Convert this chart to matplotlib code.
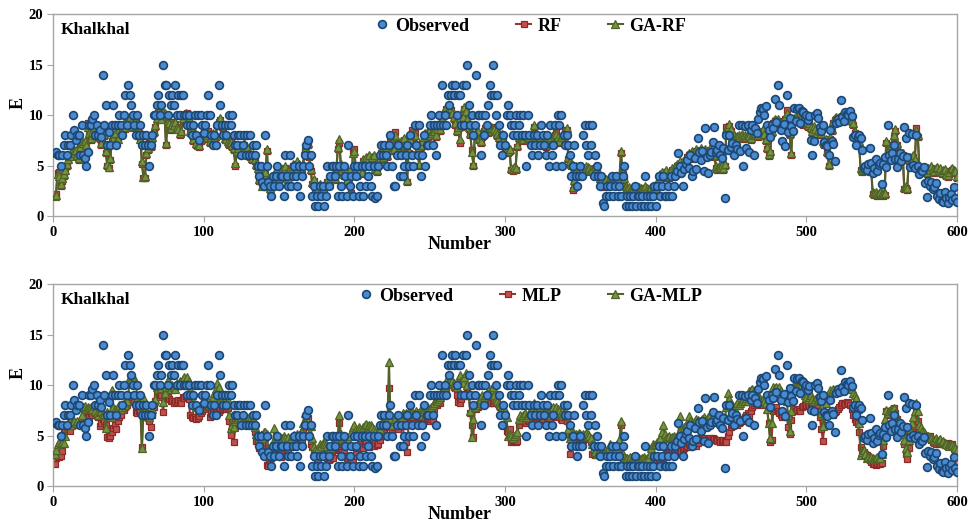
"""
Observed vs. predicted E at Khalkhal (RF / GA-RF and MLP / GA-MLP)
"""

import numpy as np
import matplotlib
matplotlib.use("Agg")
from matplotlib import pyplot as plt
from matplotlib.lines import Line2D

# Data (600 samples)
number = np.arange(1, 601)

observed = [
    6.2, 6.3, 6, 6, 5, 6, 7, 8, 6, 7, 7, 8, 10, 8.5, 7.5, 8, 8, 6, 9, 6,
    5.7, 5, 6.3, 9, 9, 9.6, 10, 8, 9, 8, 8.5, 7.8, 14, 9, 11, 7, 8.3, 7, 9, 11,
    9, 7, 9, 10, 9, 8, 10, 12, 9, 13, 12, 11, 10, 9, 8, 10, 8, 9, 7, 8,
    7, 8, 7, 5, 7, 8, 10, 10, 11, 12, 10, 11, 15, 13, 13, 10, 12, 11, 12, 11,
    13, 10, 12, 10, 12, 12, 10, 10, 9, 10, 9, 8, 9, 10, 8, 10, 7.5, 10, 9, 8.2,
    9, 10, 12, 10, 8, 7, 8, 7, 9, 13, 11, 9, 8, 9, 8, 9, 10, 9, 10, 8,
    7, 7, 8, 8, 6, 7, 8, 6, 8, 6, 8, 6, 7, 6, 7, 5, 4, 5, 3.4, 3,
    8, 5, 3.4, 3, 2, 4, 3, 4, 5, 3, 4, 4, 2, 6, 4, 3, 6, 3, 4, 5,
    4, 3, 5, 2, 4, 5, 6, 7, 7.5, 5, 6, 2, 3, 1, 2, 1, 3, 2, 3, 1,
    2, 5, 3, 4, 5, 5, 4, 5, 2, 5, 3, 2, 5, 4, 2, 7, 3, 4, 2, 5,
    4, 5, 2, 3, 5, 2, 5, 3, 4, 5, 3, 2, 5, 1.8, 2, 5, 6, 7, 6, 7,
    6, 5, 7, 8, 5, 3, 3, 6, 7, 4, 6, 4, 5, 6, 7, 5, 8, 6, 5, 9,
    7, 6, 9, 4, 6, 8, 5, 7, 7, 9, 10, 7, 9, 6, 9, 10, 9, 13, 9, 10,
    9, 12, 11, 12, 13, 12, 13, 10, 12, 12, 9, 13, 9, 13, 15, 11, 9, 10, 8, 9,
    14, 10, 10, 6, 10, 8, 10, 9, 11, 13, 12, 15, 12, 10, 12, 9, 7, 6, 8, 7,
    10, 11, 10, 9, 8, 9, 10, 8, 9, 10, 8, 10, 8, 5, 10, 8, 7, 6, 8, 7,
    8, 6, 7, 9, 8, 7, 6, 8, 5, 9, 6, 7, 9, 5, 10, 9, 10, 5, 8, 7,
    8, 7, 6, 4, 5, 7, 4, 3, 4, 5, 4, 8, 9, 7, 6, 9, 7, 9, 4, 6,
    5, 4, 3, 4, 1.3, 1, 2, 3, 2, 3, 4, 2, 3, 4, 2, 3, 2, 4, 5, 1,
    2, 1, 2, 1, 2, 3, 1, 2, 2, 1, 2, 1, 4, 2, 1, 2, 1, 2, 3, 1,
    3, 4, 2, 3, 4, 2, 2, 3, 2, 4, 2, 3, 4, 4.5, 6.2, 5, 4.3, 3, 4.7, 5.2,
    5.5, 4.8, 6, 4, 4.5, 5.7, 4.7, 7.7, 6.3, 5.5, 6.4, 4.5, 8.7, 5.8, 4.3, 6, 6.3, 7.3, 8.8, 6.3,
    6.5, 7, 6, 5.7, 6.7, 1.8, 8, 6.5, 8, 6.8, 7.2, 6, 7, 6.6, 9, 6.4, 9, 5, 8.9, 6.7,
    9, 6.3, 8.5, 9, 6, 8.7, 8.2, 9.6, 10.3, 10.7, 10.6, 10, 10.9, 9, 8.5, 7.8, 9, 8.7, 11.6, 9.3,
    13, 11, 8.5, 7.4, 9.1, 6.9, 12, 8.3, 9.7, 8.9, 8.4, 10.7, 9.4, 10.6, 10.7, 9.2, 10.4, 10.3, 9.8, 10,
    9.5, 9.9, 7.5, 6, 7.4, 10, 10.2, 9.7, 8.8, 8.4, 9, 7.3, 7, 6.9, 6, 8.5, 7.4, 7.1, 5.4, 9.2,
    9.6, 9.3, 11.5, 9.8, 9.4, 10.3, 10.1, 10, 10.4, 9.9, 7.8, 8, 7, 7.8, 8, 7.7, 6.5, 4.8, 5, 4.6,
    5.2, 6.7, 5.3, 4.3, 4.8, 5.6, 4.5, 5.1, 5.3, 3.2, 5.2, 5.8, 4.9, 9, 6, 5.5, 6.2, 7, 5.6, 4.9,
    5.6, 6.2, 5.4, 5.9, 8.8, 7.7, 5.8, 8.2, 4.9, 8.1, 5.1, 4.8, 8, 5, 4.2, 4.6, 4.5, 4.9, 3.3, 1.9,
    3.5, 3, 3.4, 2.7, 2.9, 3.3, 2, 1.7, 2.3, 1.5, 1.4, 2.4, 1.8, 1.3, 1.9, 2.2, 1.6, 2.9, 1.8, 1.4,
]

rf = [
    2.1, 2.2, 4.3, 4.4, 3.0, 3.5, 4.0, 4.8, 5.0, 5.5, 5.8, 6.0, 6.5, 6.2, 6.3, 5.8, 5.5, 7.0, 7.3, 7.0,
    7.2, 6.8, 9.2, 8.0, 7.5, 8.5, 8.9, 7.8, 8.3, 8.6, 7.6, 7.0, 8.8, 7.9, 6.2, 5.0, 4.8, 5.5, 7.4, 7.8,
    8.0, 7.2, 7.8, 8.4, 8.2, 8.8, 9.0, 8.6, 9.0, 9.4, 9.6, 9.1, 8.7, 9.4, 9.3, 9.0, 8.2, 7.8, 5.2, 3.8,
    3.8, 6.0, 6.5, 7.2, 6.8, 7.6, 8.2, 8.8, 9.5, 10.2, 10.0, 9.8, 10.1, 10.0, 7.0, 9.2, 9.0, 8.5, 9.3, 8.8,
    9.1, 8.6, 8.8, 8.0, 8.2, 9.5, 9.8, 10.0, 10.2, 9.5, 8.2, 8.6, 7.4, 8.0, 7.0, 7.2, 6.8, 7.4, 8.0, 7.6,
    8.0, 7.8, 8.4, 7.2, 7.6, 8.0, 7.5, 7.8, 9.0, 9.3, 9.5, 8.8, 8.2, 7.5, 7.8, 7.2, 7.0, 7.5, 6.8, 6.5,
    5.0, 6.2, 6.5, 6.8, 6.0, 6.3, 7.0, 6.2, 6.6, 6.0, 5.8, 5.5, 5.9, 5.4, 5.0, 4.6, 3.5, 3.8, 3.2, 4.0,
    4.2, 6.4, 3.0, 2.6, 3.0, 3.4, 3.8, 4.0, 4.6, 3.6, 3.8, 4.5, 4.4, 4.8, 4.2, 3.5, 4.6, 4.4, 5.0, 4.6,
    4.4, 5.2, 5.0, 4.8, 4.2, 5.0, 6.4, 6.9, 7.0, 5.8, 4.5, 3.2, 3.5, 2.4, 2.1, 2.6, 3.0, 2.4, 2.5, 2.8,
    3.0, 3.4, 3.0, 3.5, 3.8, 4.0, 3.6, 4.2, 6.6, 7.2, 5.0, 4.4, 4.0, 4.6, 3.4, 4.0, 4.4, 2.3, 6.4, 6.6,
    4.5, 4.0, 4.4, 4.8, 4.2, 5.4, 5.0, 5.6, 5.4, 5.8, 5.2, 5.6, 5.8, 4.6, 4.4, 5.0, 5.5, 6.2, 5.6, 6.0,
    6.6, 5.8, 6.8, 7.4, 7.0, 6.4, 8.3, 7.0, 6.2, 6.8, 7.2, 6.0, 7.5, 6.8, 3.4, 6.2, 7.4, 8.5, 7.8, 8.2,
    7.0, 6.4, 5.0, 6.8, 7.2, 7.6, 8.0, 8.2, 7.8, 8.4, 8.0, 8.6, 8.2, 7.8, 8.4, 8.8, 8.4, 9.5, 10.0, 10.2,
    10.6, 10.4, 10.8, 10.5, 10.0, 9.6, 9.0, 8.3, 8.6, 7.2, 8.8, 9.6, 10.6, 10.2, 9.4, 8.6, 8.0, 6.5, 5.0, 7.9,
    7.9, 8.2, 7.5, 7.2, 7.8, 8.4, 8.7, 8.7, 8.2, 8.5, 8.6, 8.4, 8.8, 8.2, 7.9, 7.6, 7.9, 7.9, 7.4, 6.8,
    6.5, 6.2, 6.4, 4.6, 4.5, 4.7, 4.6, 6.8, 7.6, 7.8, 7.6, 7.4, 7.8, 7.7, 7.5, 7.6, 7.8, 7.8, 8.8, 7.4,
    7.2, 7.3, 7.0, 7.6, 7.4, 7.2, 6.8, 7.4, 7.0, 7.6, 7.2, 7.0, 8.0, 8.3, 7.6, 7.2, 7.6, 7.8, 8.0, 8.5,
    8.5, 5.6, 5.2, 5.0, 2.6, 3.4, 4.8, 4.6, 4.4, 4.6, 4.8, 4.6, 4.4, 4.8, 4.7, 4.6, 4.5, 4.4, 4.2, 4.8,
    4.5, 4.0, 3.6, 3.4, 2.9, 3.2, 3.5, 3.0, 3.4, 3.7, 3.8, 3.5, 3.6, 3.7, 3.4, 3.8, 6.2, 4.2, 3.6, 2.8,
    2.6, 2.7, 2.4, 2.6, 2.5, 2.8, 2.6, 2.5, 2.7, 2.6, 2.5, 2.6, 2.8, 2.6, 2.4, 2.6, 2.7, 2.6, 2.5, 2.6,
    3.0, 3.6, 4.0, 4.2, 3.8, 4.2, 4.4, 4.0, 3.8, 4.2, 4.6, 4.2, 4.8, 5.0, 4.6, 5.2, 4.9, 5.2, 5.0, 5.4,
    5.8, 6.0, 5.6, 6.2, 6.0, 5.8, 6.4, 6.0, 6.2, 6.5, 5.8, 6.2, 6.4, 6.0, 6.2, 6.5, 6.3, 6.6, 5.8, 4.8,
    4.6, 4.8, 4.7, 4.9, 4.6, 5.0, 8.8, 8.6, 8.9, 8.4, 7.6, 7.8, 7.6, 7.7, 7.8, 7.6, 7.9, 7.7, 7.8, 7.6,
    7.8, 7.7, 7.5, 7.8, 7.9, 8.0, 8.2, 7.8, 8.1, 8.0, 8.4, 7.9, 7.4, 6.6, 5.9, 6.2, 8.2, 9.2, 9.4, 9.3,
    9.4, 9.2, 8.6, 8.9, 9.0, 9.6, 10.5, 9.2, 8.0, 6.0, 9.4, 9.5, 9.6, 9.5, 9.6, 9.4, 9.2, 9.0, 9.3, 9.1,
    8.8, 9.0, 8.6, 8.2, 8.7, 8.4, 8.0, 8.3, 8.2, 8.0, 7.2, 7.0, 7.4, 6.2, 5.0, 7.6, 8.4, 9.2, 9.5, 9.6,
    9.4, 9.6, 9.8, 9.5, 9.4, 9.6, 9.5, 9.4, 9.6, 9.3, 9.0, 8.2, 7.7, 7.6, 7.2, 4.6, 4.4, 4.5, 4.7, 4.5,
    4.6, 4.4, 4.8, 2.2, 2.1, 2.2, 2.0, 2.1, 2.2, 2.1, 2.0, 2.1, 7.2, 6.0, 6.4, 6.8, 7.0, 7.8, 8.4, 7.0,
    6.2, 6.0, 5.8, 6.0, 2.7, 2.8, 2.6, 5.4, 5.6, 5.5, 5.8, 5.4, 8.7, 7.8, 4.8, 4.5, 4.4, 4.6, 4.4, 4.2,
    4.6, 4.4, 4.8, 4.5, 4.3, 4.6, 4.7, 4.4, 4.6, 4.2, 4.4, 4.5, 4.0, 3.9, 4.2, 4.5, 4.6, 4.4, 4.3, 3.8,
]

ga_rf = [
    2.0, 2.1, 4.2, 4.0, 3.2, 3.8, 4.2, 4.6, 5.2, 5.6, 5.9, 6.2, 6.6, 6.4, 6.5, 6.0, 5.7, 6.8, 7.4, 7.2,
    7.4, 7.0, 8.8, 8.2, 7.7, 8.3, 8.8, 8.0, 8.5, 8.4, 7.8, 7.2, 8.6, 8.1, 6.4, 5.2, 4.9, 5.7, 7.6, 7.6,
    8.2, 7.4, 7.6, 8.6, 8.4, 8.6, 9.2, 8.8, 9.2, 9.6, 9.8, 9.3, 8.9, 9.2, 9.5, 9.2, 8.4, 7.6, 5.4, 3.9,
    4.0, 6.2, 6.7, 7.0, 7.0, 7.8, 8.4, 9.0, 9.7, 10.4, 10.2, 9.6, 10.3, 10.2, 7.2, 9.4, 9.2, 8.7, 9.1, 9.0,
    9.3, 8.8, 8.6, 8.2, 8.4, 9.7, 10.0, 10.2, 10.0, 9.7, 8.4, 8.4, 7.6, 8.2, 7.2, 7.0, 7.0, 7.6, 8.2, 7.8,
    8.2, 8.0, 8.2, 7.4, 7.8, 8.2, 7.7, 8.0, 9.2, 9.5, 9.7, 9.0, 8.4, 7.7, 7.6, 7.4, 7.2, 7.3, 7.0, 6.7,
    5.3, 6.4, 6.7, 7.0, 6.2, 6.5, 7.2, 6.4, 6.8, 6.2, 6.0, 5.7, 6.1, 5.6, 5.2, 4.8, 3.7, 3.6, 3.0, 4.2,
    4.4, 6.6, 3.2, 2.8, 3.2, 3.6, 4.0, 4.2, 4.8, 3.8, 4.0, 4.7, 4.6, 5.0, 4.4, 3.7, 4.8, 4.6, 5.2, 4.8,
    4.6, 5.4, 5.2, 5.0, 4.4, 5.2, 6.6, 7.1, 7.2, 6.0, 4.7, 3.4, 3.7, 2.6, 2.3, 2.8, 3.2, 2.6, 2.7, 3.0,
    3.2, 3.6, 3.2, 3.7, 4.0, 4.2, 3.8, 4.4, 6.8, 7.6, 5.2, 4.6, 4.2, 4.8, 3.6, 4.2, 4.6, 2.1, 6.2, 6.4,
    4.7, 4.2, 4.6, 5.0, 4.4, 5.6, 5.2, 5.8, 5.6, 6.0, 5.4, 5.8, 6.0, 4.8, 4.6, 5.2, 5.7, 6.4, 5.8, 6.2,
    6.8, 6.0, 7.0, 7.2, 7.2, 6.6, 8.0, 7.2, 6.4, 7.0, 7.4, 6.2, 7.7, 7.0, 3.6, 6.4, 7.6, 8.3, 8.0, 8.0,
    7.2, 6.6, 5.2, 7.0, 7.4, 7.8, 8.2, 8.0, 8.0, 8.6, 8.2, 8.4, 8.4, 8.0, 8.6, 9.0, 8.6, 9.7, 10.2, 10.4,
    10.8, 10.6, 10.6, 10.7, 10.2, 9.8, 9.2, 8.5, 8.8, 7.6, 9.0, 9.8, 10.8, 10.4, 9.6, 8.8, 8.2, 6.3, 5.2, 8.1,
    8.1, 8.4, 7.7, 7.4, 8.0, 8.6, 8.9, 8.5, 8.4, 8.7, 8.8, 8.6, 8.6, 8.4, 8.1, 7.8, 8.1, 8.1, 7.6, 7.0,
    6.7, 6.4, 6.6, 4.8, 4.7, 4.9, 4.8, 7.0, 7.8, 8.0, 7.8, 7.6, 8.0, 7.9, 7.7, 7.8, 8.0, 8.0, 9.0, 7.6,
    7.4, 7.5, 7.2, 7.8, 7.6, 7.4, 7.0, 7.6, 7.2, 7.8, 7.4, 7.2, 8.2, 8.1, 7.8, 7.4, 7.8, 8.0, 8.2, 8.3,
    8.7, 5.8, 5.4, 5.2, 2.9, 3.6, 5.0, 4.8, 4.6, 4.8, 5.0, 4.8, 4.6, 5.0, 4.9, 4.8, 4.7, 4.6, 4.4, 5.0,
    4.7, 4.2, 3.8, 3.6, 3.1, 3.4, 3.7, 3.2, 3.6, 3.9, 4.0, 3.7, 3.8, 3.9, 3.6, 4.0, 6.4, 4.4, 3.8, 3.0,
    2.8, 2.9, 2.6, 2.8, 2.7, 3.0, 2.8, 2.7, 2.9, 2.8, 2.7, 2.8, 3.0, 2.8, 2.6, 2.8, 2.9, 2.8, 2.7, 2.8,
    3.2, 3.8, 4.2, 4.4, 4.0, 4.4, 4.6, 4.2, 4.0, 4.4, 4.8, 4.4, 5.0, 5.2, 4.8, 5.4, 5.1, 5.4, 5.2, 5.6,
    6.0, 6.2, 5.8, 6.4, 6.2, 6.0, 6.6, 6.2, 6.4, 6.7, 6.0, 6.4, 6.6, 6.2, 6.4, 6.7, 6.5, 6.8, 6.0, 5.0,
    4.8, 5.0, 4.9, 5.1, 4.8, 5.2, 8.6, 8.8, 9.1, 8.6, 7.8, 8.0, 7.8, 7.9, 8.0, 7.8, 8.1, 7.9, 8.0, 7.8,
    8.0, 7.9, 7.7, 8.0, 8.1, 8.2, 8.4, 8.0, 8.3, 8.2, 8.6, 8.1, 7.6, 6.8, 6.1, 6.4, 8.4, 9.4, 9.6, 9.5,
    9.6, 9.4, 8.8, 9.1, 9.2, 9.8, 10.2, 9.4, 8.2, 6.2, 9.6, 9.7, 9.8, 9.7, 9.8, 9.6, 9.4, 9.2, 9.5, 9.3,
    9.0, 9.2, 8.8, 8.4, 8.9, 8.6, 8.2, 8.5, 8.4, 8.2, 7.4, 7.2, 7.6, 6.4, 5.2, 7.8, 8.6, 9.4, 9.7, 9.8,
    9.6, 9.8, 10.0, 9.7, 9.6, 9.8, 9.7, 9.6, 9.8, 9.5, 9.2, 8.4, 7.9, 7.8, 7.4, 4.8, 4.6, 4.7, 4.9, 4.7,
    4.8, 4.6, 5.0, 2.4, 2.3, 2.4, 2.2, 2.3, 2.4, 2.3, 2.2, 2.3, 7.4, 6.2, 6.6, 7.0, 7.2, 8.0, 8.6, 7.2,
    6.4, 6.2, 6.0, 6.2, 2.9, 3.0, 2.8, 5.6, 5.8, 5.7, 6.0, 5.6, 8.5, 8.0, 5.0, 4.7, 4.6, 4.8, 4.6, 4.4,
    4.8, 4.6, 5.0, 4.7, 4.5, 4.8, 4.9, 4.6, 4.8, 4.4, 4.6, 4.7, 4.2, 4.1, 4.4, 4.7, 4.8, 4.6, 4.5, 4.0,
]

mlp = [
    2.2, 2.8, 3.0, 2.9, 3.0, 3.5, 5.5, 5.6, 5.8, 6.0, 5.5, 6.0, 6.2, 6.1, 6.0, 6.3, 6.0, 6.2, 6.1, 6.0,
    7.2, 7.0, 7.3, 6.8, 7.2, 7.0, 7.4, 7.2, 7.0, 6.8, 5.9, 6.2, 6.6, 6.4, 6.0, 4.9, 4.8, 5.0, 5.4, 5.7,
    6.0, 5.6, 6.4, 6.8, 7.0, 7.5, 7.5, 7.8, 8.0, 8.3, 8.6, 8.8, 9.0, 8.4, 7.3, 7.2, 7.4, 7.3, 3.9, 7.0,
    6.8, 7.2, 7.0, 6.4, 5.8, 7.0, 7.8, 8.4, 9.0, 9.2, 8.8, 9.0, 7.3, 8.6, 8.8, 8.8, 8.6, 8.4, 8.4, 8.2,
    8.4, 8.3, 8.5, 8.4, 8.2, 8.8, 8.7, 8.9, 8.8, 8.6, 7.0, 6.8, 6.7, 6.8, 6.6, 6.7, 6.9, 7.2, 7.4, 7.6,
    7.6, 7.8, 7.8, 6.8, 7.2, 7.4, 7.0, 7.2, 7.4, 7.3, 7.5, 7.6, 7.7, 7.8, 7.6, 7.7, 6.4, 5.1, 5.6, 4.4,
    5.8, 6.0, 6.4, 6.2, 6.3, 6.0, 6.4, 6.2, 6.1, 6.4, 6.2, 6.0, 6.2, 5.4, 4.5, 4.4, 3.8, 3.6, 4.2, 5.2,
    4.8, 2.1, 2.0, 2.2, 2.8, 3.0, 3.5, 3.2, 3.0, 3.1, 2.9, 3.4, 3.6, 3.8, 3.4, 3.7, 4.0, 3.9, 4.2, 4.2,
    4.0, 4.3, 4.4, 4.2, 4.6, 5.4, 6.0, 6.5, 6.7, 5.0, 4.2, 3.9, 3.2, 2.9, 2.6, 2.7, 3.2, 3.0, 3.3, 3.1,
    3.2, 2.8, 2.6, 2.7, 3.0, 2.8, 3.6, 3.7, 3.8, 6.2, 3.6, 3.4, 3.5, 3.0, 2.8, 2.4, 2.5, 2.3, 2.4, 3.0,
    3.4, 3.8, 4.0, 4.2, 4.0, 3.8, 4.2, 4.4, 4.0, 3.9, 4.2, 4.1, 4.0, 4.3, 4.1, 4.2, 4.6, 5.0, 5.2, 5.6,
    6.4, 5.8, 9.7, 6.0, 5.5, 5.8, 6.0, 5.9, 5.6, 5.9, 6.0, 5.9, 5.0, 4.4, 3.4, 6.2, 6.9, 7.0, 6.8, 7.2,
    7.0, 6.6, 6.8, 6.5, 6.2, 6.4, 6.5, 6.6, 6.7, 6.4, 6.6, 6.5, 7.6, 8.2, 8.0, 8.3, 8.2, 9.0, 9.4, 9.6,
    9.5, 10.0, 10.2, 10.3, 10.1, 9.8, 9.7, 9.0, 8.3, 8.2, 8.6, 9.0, 9.1, 8.9, 9.8, 9.0, 7.2, 6.0, 4.9, 7.8,
    7.6, 7.8, 8.0, 8.2, 8.8, 8.6, 8.7, 8.9, 8.4, 8.2, 8.2, 8.2, 8.4, 8.6, 8.8, 8.0, 7.8, 7.5, 7.4, 7.0,
    5.5, 5.4, 5.6, 4.4, 4.5, 4.6, 4.4, 4.5, 6.0, 6.5, 6.4, 6.6, 6.8, 6.2, 6.4, 6.5, 6.7, 6.6, 7.2, 6.8,
    6.6, 6.8, 6.7, 6.8, 6.6, 6.9, 7.0, 6.8, 6.7, 6.9, 7.0, 7.2, 6.9, 6.8, 7.0, 6.8, 6.6, 6.5, 6.8, 7.0,
    6.4, 5.2, 3.2, 4.8, 5.0, 4.9, 4.8, 4.7, 4.8, 4.9, 4.8, 4.6, 4.8, 4.9, 4.7, 4.8, 4.4, 3.2, 3.3, 3.1,
    3.2, 3.3, 3.1, 3.2, 3.0, 3.2, 3.3, 3.2, 3.1, 3.3, 3.2, 3.0, 3.4, 3.5, 3.6, 4.2, 6.0, 2.6, 2.5, 2.4,
    2.5, 2.6, 2.4, 2.5, 2.6, 2.5, 2.4, 2.6, 2.5, 2.1, 2.0, 2.1, 2.2, 2.0, 2.1, 2.0, 2.2, 2.1, 2.4, 2.6,
    2.6, 2.7, 2.5, 2.6, 2.8, 3.0, 3.2, 3.4, 3.3, 3.5, 3.4, 3.3, 3.5, 3.4, 3.6, 3.4, 3.5, 3.6, 3.8, 3.9,
    4.0, 4.2, 3.9, 4.1, 4.0, 4.2, 4.0, 4.3, 4.6, 4.8, 4.7, 4.6, 4.8, 4.5, 4.7, 4.8, 4.6, 4.8, 4.7, 4.6,
    4.5, 4.6, 4.4, 4.5, 4.6, 4.5, 4.4, 5.0, 5.4, 5.8, 6.0, 6.2, 6.1, 6.0, 6.2, 6.3, 6.4, 6.6, 6.8, 7.0,
    7.2, 7.0, 7.4, 7.8, 8.0, 8.2, 8.0, 8.3, 8.2, 8.1, 8.0, 8.2, 8.1, 8.0, 6.2, 4.4, 4.6, 7.4, 7.6, 7.8,
    7.4, 7.2, 7.0, 6.8, 6.9, 7.0, 6.9, 5.8, 5.2, 6.5, 7.5, 7.6, 7.4, 7.5, 7.6, 7.4, 7.8, 7.9, 8.0, 8.0,
    8.1, 7.9, 8.0, 8.2, 7.8, 8.0, 7.9, 7.4, 6.8, 5.6, 4.5, 6.0, 7.2, 7.0, 7.3, 7.1, 7.2, 7.0, 7.3, 7.4,
    7.6, 7.8, 8.0, 8.2, 8.2, 8.1, 8.3, 8.2, 8.0, 7.6, 7.0, 6.6, 6.3, 6.2, 5.4, 3.9, 3.6, 3.4, 3.2, 3.1,
    2.8, 2.6, 2.4, 2.2, 2.2, 2.1, 2.2, 2.3, 2.2, 2.3, 4.0, 6.0, 7.4, 7.0, 7.2, 7.4, 7.5, 7.7, 7.2, 6.6,
    6.2, 5.9, 6.0, 5.4, 4.2, 3.2, 2.7, 3.8, 5.0, 5.6, 5.9, 6.6, 7.4, 6.4, 5.4, 5.2, 5.0, 5.1, 4.9, 5.0,
    4.9, 5.0, 4.6, 4.4, 4.3, 4.2, 4.4, 4.3, 4.2, 4.4, 4.2, 4.1, 4.2, 4.3, 4.2, 4.0, 4.2, 3.8, 3.2, 2.6,
]

ga_mlp = [
    3.2, 3.6, 4.2, 4.4, 4.3, 4.4, 4.3, 5.0, 6.0, 6.2, 6.4, 6.0, 6.3, 6.4, 6.2, 6.4, 6.2, 6.3, 7.0, 7.8,
    7.9, 7.6, 7.8, 7.7, 7.8, 7.6, 7.9, 7.4, 7.2, 7.0, 7.3, 7.4, 7.2, 7.1, 5.7, 7.3, 7.0, 6.8, 9.5, 7.8,
    7.6, 7.4, 7.8, 8.0, 7.6, 7.8, 8.2, 8.0, 8.4, 9.0, 10.8, 10.6, 10.9, 10.5, 10.2, 8.8, 8.4, 8.2, 3.8, 8.8,
    7.6, 7.2, 6.9, 6.8, 7.2, 7.6, 8.4, 8.6, 9.8, 9.6, 9.9, 9.7, 8.3, 9.2, 9.8, 10.5, 9.8, 9.6, 10.0, 9.8,
    9.6, 10.2, 10.0, 10.4, 10.3, 10.6, 10.8, 10.5, 10.8, 10.4, 9.6, 9.0, 8.4, 8.0, 7.8, 7.8, 7.6, 7.8, 8.2, 8.4,
    8.6, 8.2, 8.4, 8.0, 8.2, 8.8, 9.2, 9.6, 10.2, 9.8, 8.6, 8.8, 8.6, 8.4, 8.7, 8.5, 7.0, 5.7, 6.0, 5.8,
    6.4, 6.6, 6.8, 6.6, 6.7, 6.4, 6.8, 6.6, 6.5, 6.8, 6.6, 6.4, 6.6, 5.8, 5.2, 5.0, 4.4, 4.2, 4.8, 5.4,
    5.4, 5.2, 3.4, 3.6, 4.0, 4.4, 5.7, 5.0, 4.6, 4.4, 4.2, 4.8, 5.0, 4.8, 4.6, 4.9, 4.6, 4.8, 5.0, 5.1,
    5.0, 5.2, 5.1, 5.2, 5.4, 6.2, 7.2, 6.6, 6.4, 6.0, 5.9, 4.8, 4.0, 3.6, 3.4, 3.8, 4.2, 4.0, 4.3, 4.2,
    4.2, 4.0, 3.6, 3.8, 4.0, 4.2, 4.8, 4.6, 5.0, 7.0, 5.2, 4.8, 4.6, 4.4, 4.2, 4.6, 5.0, 5.4, 5.8, 6.0,
    5.6, 5.4, 5.8, 5.6, 5.4, 5.8, 6.0, 6.1, 5.9, 6.0, 6.0, 5.8, 5.6, 5.4, 5.2, 5.4, 5.6, 6.0, 6.4, 6.6,
    6.8, 6.6, 12.3, 6.6, 6.0, 6.4, 6.6, 6.4, 6.2, 6.6, 6.8, 7.2, 7.1, 7.2, 7.0, 7.4, 7.2, 7.3, 7.1, 7.2,
    7.4, 7.2, 7.0, 7.6, 7.4, 7.8, 7.6, 7.8, 7.7, 7.6, 7.8, 8.0, 8.2, 8.5, 8.4, 8.6, 8.8, 9.2, 9.6, 9.8,
    10.4, 10.2, 10.5, 10.6, 10.4, 10.2, 10.0, 9.8, 10.4, 11.0, 10.4, 10.2, 10.8, 11.2, 10.0, 9.0, 7.4, 4.9, 6.6, 7.8,
    8.0, 8.2, 8.4, 8.6, 9.0, 8.8, 9.0, 9.2, 9.0, 9.4, 9.6, 9.8, 9.0, 8.6, 8.4, 8.2, 8.0, 7.8, 7.6, 7.5,
    6.8, 5.0, 5.2, 5.0, 4.8, 5.0, 5.2, 5.4, 6.6, 7.0, 6.8, 7.0, 7.2, 6.8, 7.0, 7.2, 7.4, 7.6, 8.2, 7.4,
    7.2, 7.0, 7.2, 7.4, 7.0, 7.2, 7.4, 7.2, 7.0, 7.4, 7.6, 7.8, 7.4, 7.8, 7.6, 7.4, 7.2, 7.0, 7.2, 7.4,
    7.0, 5.6, 4.8, 5.0, 5.4, 5.2, 5.2, 5.1, 5.3, 5.2, 5.0, 5.2, 5.1, 5.3, 5.2, 5.0, 4.8, 4.2, 3.8, 3.4,
    3.2, 3.3, 3.2, 3.1, 3.2, 3.3, 3.2, 3.6, 3.8, 4.2, 4.0, 3.8, 3.6, 3.8, 4.2, 4.6, 6.4, 3.2, 2.9, 2.8,
    2.8, 2.7, 2.9, 2.8, 2.7, 2.9, 2.8, 2.7, 2.8, 2.7, 2.8, 2.9, 2.7, 2.8, 2.7, 3.2, 3.8, 4.2, 4.1, 4.2,
    4.4, 4.6, 4.8, 5.4, 6.0, 5.2, 4.8, 4.9, 5.0, 4.8, 4.9, 5.0, 4.8, 4.9, 5.2, 6.9, 5.6, 5.4, 5.8, 6.0,
    6.2, 6.9, 6.4, 6.0, 6.2, 6.4, 6.6, 6.5, 6.2, 6.4, 6.6, 6.8, 6.4, 6.6, 6.8, 7.0, 6.6, 6.8, 7.0, 6.8,
    6.6, 6.8, 6.4, 6.6, 6.7, 6.8, 7.8, 9.2, 8.6, 8.2, 8.0, 7.8, 8.0, 8.2, 8.0, 8.2, 8.4, 8.6, 8.4, 8.7,
    8.4, 9.4, 9.5, 9.6, 9.4, 9.5, 9.2, 8.8, 8.6, 8.4, 8.6, 8.4, 8.2, 7.6, 6.2, 4.8, 6.2, 9.8, 9.7, 9.8,
    9.6, 9.8, 9.4, 9.0, 8.8, 8.6, 8.4, 7.0, 5.5, 7.4, 9.8, 10.0, 10.0, 9.9, 10.0, 9.8, 9.4, 9.2, 9.0, 8.8,
    8.6, 8.8, 9.0, 8.6, 8.4, 8.6, 8.8, 8.5, 8.5, 7.2, 5.9, 7.0, 8.2, 8.8, 9.2, 9.5, 9.4, 9.6, 9.5, 9.4,
    9.6, 9.5, 9.6, 9.8, 9.9, 10.0, 10.0, 9.8, 10.0, 9.6, 9.2, 9.0, 8.7, 7.6, 6.2, 3.1, 3.4, 3.6, 3.2, 2.8,
    2.9, 2.8, 2.9, 2.8, 2.7, 2.8, 2.9, 2.8, 2.8, 3.2, 4.6, 6.6, 7.5, 7.2, 7.4, 7.6, 7.5, 7.7, 7.2, 6.8,
    6.4, 6.2, 5.8, 5.2, 4.6, 3.8, 3.4, 4.6, 5.6, 6.2, 6.8, 7.4, 8.2, 7.4, 6.0, 5.8, 5.5, 5.4, 5.2, 5.0,
    5.0, 4.9, 4.8, 4.7, 4.6, 4.8, 4.5, 4.6, 4.7, 4.4, 4.5, 4.3, 4.2, 4.1, 4.0, 4.2, 4.1, 4.0, 3.8, 3.6,
]

for name, s in [("observed", observed), ("rf", rf), ("ga_rf", ga_rf),
                ("mlp", mlp), ("ga_mlp", ga_mlp)]:
    assert len(s) == 600, (name, len(s))

# Styles
obs_style = dict(linestyle="none", marker="o", markersize=5.6,
                 markerfacecolor="#4A8AD0", markeredgecolor="#1D4773",
                 markeredgewidth=1.2)
red_style = dict(color="#953735", linewidth=1.5, marker="s", markersize=4.4,
                 markerfacecolor="#C0504D", markeredgecolor="#8C2A28",
                 markeredgewidth=0.9)
green_style = dict(color="#4F6228", linewidth=1.5, marker="^", markersize=5.4,
                   markerfacecolor="#77933C", markeredgecolor="#4F6228",
                   markeredgewidth=0.9)

plt.rcParams["font.family"] = "Liberation Serif"
plt.rcParams["font.weight"] = "bold"

fig = plt.figure(figsize=(9.8, 5.23), dpi=100)
ax_top = fig.add_axes([0.0541, 0.587, 0.9224, 0.386])
ax_bot = fig.add_axes([0.0541, 0.0707, 0.9224, 0.386])


def panel(ax, model, ga_model, model_name):
    ax.plot(number, model, zorder=2, **red_style)
    ax.plot(number, ga_model, zorder=3, **green_style)
    ax.plot(number, observed, zorder=4, **obs_style)

    ax.set_xlim(0, 600)
    ax.set_ylim(0, 20)
    ax.set_xticks(range(0, 601, 100))
    ax.set_yticks(range(0, 21, 5))
    for sp in ax.spines.values():
        sp.set_color("#A6A6A6")
        sp.set_linewidth(1.0)
    ax.tick_params(axis="both", direction="out", length=4, width=0.8,
                   color="#A6A6A6", labelsize=10.5, pad=3)
    for lab in ax.get_xticklabels() + ax.get_yticklabels():
        lab.set_fontweight("bold")

    ax.set_xlabel("Number", fontsize=13, fontweight="bold")
    ax.xaxis.set_label_coords(0.45, -0.10)
    ax.set_ylabel("E", fontsize=13, fontweight="bold")
    ax.yaxis.set_label_coords(-0.029, 0.56)

    ax.text(0.009, 0.92, "Khalkhal", transform=ax.transAxes, fontsize=12.5,
            fontweight="bold", va="center", ha="left")

    handles = [Line2D([], [], **obs_style),
               Line2D([], [], **red_style),
               Line2D([], [], **green_style)]
    ax.legend(handles, ["Observed", model_name, "GA-" + model_name],
              loc="center", bbox_to_anchor=(0.528, 0.94), ncol=3,
              frameon=False, handlelength=0.8, handletextpad=0.35,
              columnspacing=2.6, prop=dict(size=13, weight="bold"))


panel(ax_top, rf, ga_rf, "RF")
panel(ax_bot, mlp, ga_mlp, "MLP")

plt.savefig("out.png", dpi=100)
plt.close()
